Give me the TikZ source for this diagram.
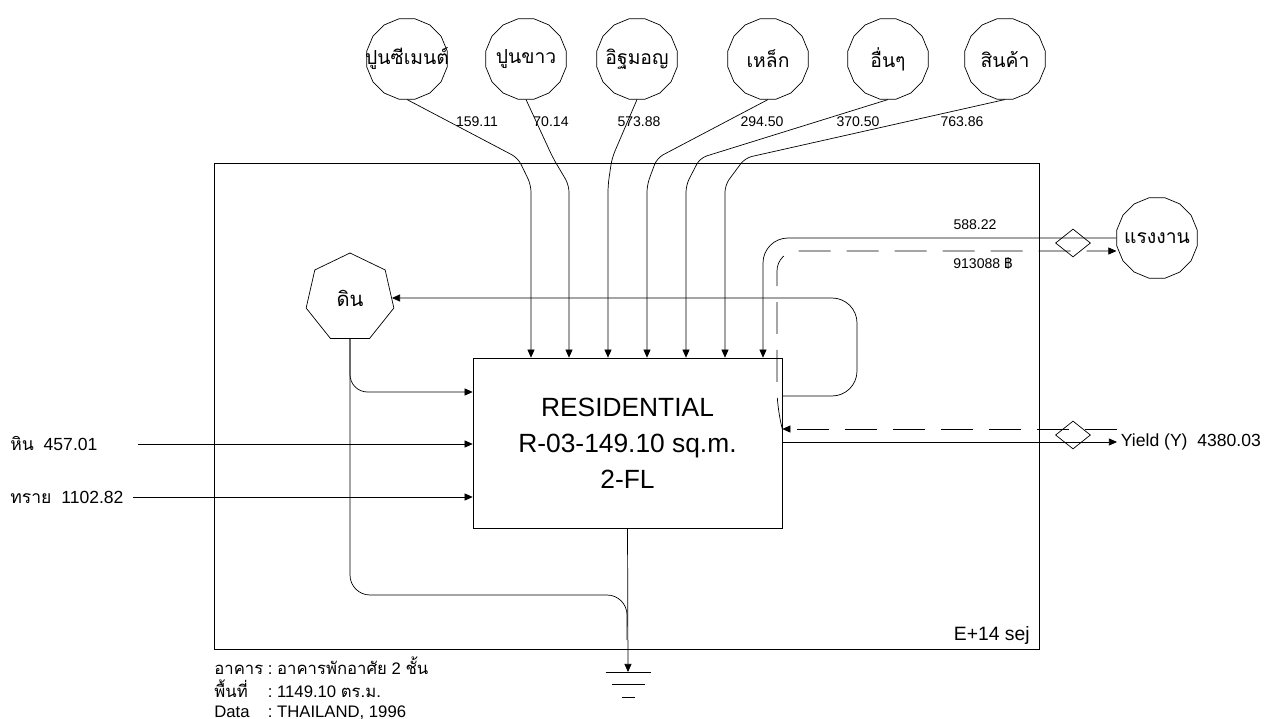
\documentclass[tikz,border=0pt]{standalone}
\usepackage{fontspec}
\setmainfont{Liberation Sans}
\newfontfamily\thaifont[Script=Thai]{Loma}
\usetikzlibrary{arrows.meta,positioning,shapes.geometric}

\begin{document}
\begin{tikzpicture}[x=0.02cm,y=-0.02cm,>={Triangle[length=4.6pt,width=4pt]},
  src/.style={draw,regular polygon,regular polygon sides=16,minimum size=1.64cm,inner sep=0pt,font=\thaifont\fontsize{11}{13}\selectfont},
  val/.style={font=\fontsize{8}{9}\selectfont,inner sep=1pt},
  deal/.style={draw,diamond,minimum width=0.7cm,minimum height=0.56cm,inner sep=0pt},
  money/.style={dash pattern=on 0.64cm off 0.32cm}]
\useasboundingbox (0,0) rectangle (1267,719);

% system frame and main storage
\node[draw,minimum width=16.5cm,minimum height=9.72cm] (sys) at (626.5,406) {};
\node[anchor=base east,inner sep=0pt,font=\fontsize{11}{13}\selectfont] (unit) at (1030,640) {E+14 sej};
\node[draw,minimum width=6.18cm,minimum height=3.4cm,align=center,font=\fontsize{15}{20.5}\selectfont] (res) at (627.5,443) {RESIDENTIAL\\R-03-149.10 sq.m.\\2-FL};

% purchased inputs
\foreach \n/\x/\t in {c1/407/ปูนซีเมนต์,c2/526/ปูนขาว,c3/637/อิฐมอญ,c4/768/เหล็ก,c5/888/อื่นๆ,c6/1005/สินค้า}
  \node[src] (\n) at (\x,59) {\makebox[0pt]{\t}};
\foreach \n/\xb/\xv in {c1/518/531,c2/553/569,c3/612/608,c4/657/647,c5/700/686,c6/745/725}
  \draw[->,rounded corners=4pt] (\n.south) -- (\xb,158) -- (\xv,185) -- (res.north -| \xv,0);
\foreach \x/\v in {477/159.11,551/70.14,639/573.88,762/294.50,858/370.50,962/763.86}
  \node[val] (val\x) at (\x,122) {\v};

% soil storage
\node[draw,regular polygon,regular polygon sides=7,minimum size=1.8cm,inner sep=0pt,font=\thaifont\fontsize{11.5}{13}\selectfont] (din) at (350,298) {ดิน};
\draw[->,rounded corners=0.5cm] (res.east |- 0,396) -- (857,396) -- (857,298) -- (din.east);
\draw[->,rounded corners=0.35cm] (din.south) -- (350,392) -- (res.west |- 0,392);

% left inputs
\node[anchor=west,inner sep=0pt,font=\fontsize{10}{12}\selectfont] (hin) at (10,444) {{\thaifont หิน}\ \ 457.01};
\node[anchor=west,inner sep=0pt,font=\fontsize{10}{12}\selectfont] (sai) at (10,497) {{\thaifont ทราย}\ \ 1102.82};
\coordinate (hinS) at (138,444);
\coordinate (saiS) at (133,497);
\draw[->] (hinS) -- (res.west |- hinS);
\draw[->] (saiS) -- (res.west |- saiS);

% ground
\coordinate (gnd) at (628,672);
\draw[->] (res.south) -- (gnd);
\draw[rounded corners=0.4cm] (din.south) -- (350,595) -- (627,595) -- (627,640);
\draw ([xshift=-0.45cm]gnd) -- ([xshift=0.45cm]gnd);
\draw ([xshift=-0.33cm,yshift=-0.25cm]gnd) -- ([xshift=0.33cm,yshift=-0.25cm]gnd);
\draw ([xshift=-0.13cm,yshift=-0.5cm]gnd) -- ([xshift=0.13cm,yshift=-0.5cm]gnd);

% labour
\node[src] (lab) at (1157,238) {\makebox[0pt]{แรงงาน}};
\node[deal] (dLab) at (1073,243) {};
\draw[->,rounded corners=0.5cm] (lab.west) -- (763,238) -- (res.north -| 763,0);
\node[val] (v588) at (975,225) {588.22};
\coordinate (mIn) at (res.east |- 0,429);
\draw[->,money,rounded corners=0.4cm] (mIn) -- (777,410) -- (777,251) -- (lab.west |- 0,251);
\node[val] (v913) at (983,263) {913088 {\thaifont ฿}};

% yield
\node[anchor=west,inner sep=2pt,font=\fontsize{10}{12}\selectfont] (yield) at (1117,442) {Yield (Y)\ \ 4380.03};
\node[deal] (dYield) at (1073,435) {};
\draw[->] (res.east |- yield) -- (yield.west);
\draw[->,money] (yield.west |- 0,429) -- (mIn);

% notes
\node[anchor=north west,inner sep=0pt,font=\fontsize{9.5}{11.4}\selectfont] (info) at (214,656) {\begin{tabular}{@{}l@{\ :\ }l@{}}
{\thaifont อาคาร} & {\thaifont อาคารพักอาศัย} 2 {\thaifont ชั้น}\\
{\thaifont พื้นที่} & 1149.10 {\thaifont ตร.ม.}\\
Data & THAILAND, 1996
\end{tabular}};
\end{tikzpicture}
\end{document}
